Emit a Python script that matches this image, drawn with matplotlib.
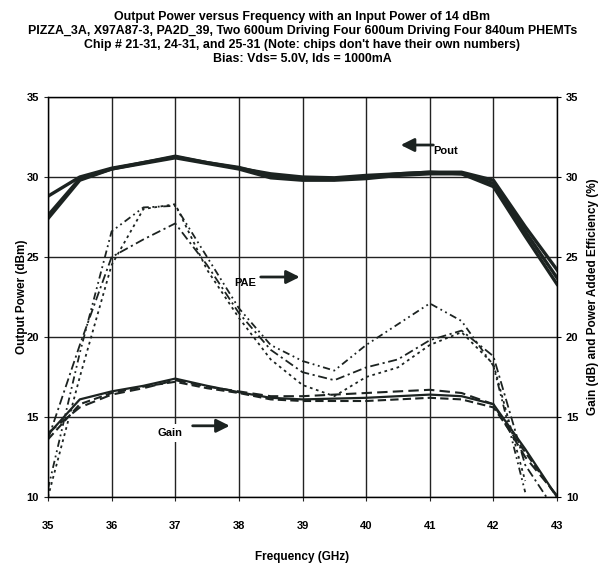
import numpy as np
import matplotlib
matplotlib.use("Agg")
import matplotlib.pyplot as plt
from matplotlib import font_manager

names = {f.name for f in font_manager.fontManager.ttflist}
FONT = "Liberation Sans Narrow" if "Liberation Sans Narrow" in names else "Liberation Sans"
plt.rcParams['font.family'] = [FONT, 'DejaVu Sans']
plt.rcParams['font.weight'] = 'bold'

freq = [35, 35.5, 36, 36.5, 37, 37.5, 38, 38.5, 39, 39.5, 40, 40.5, 41, 41.5, 42, 42.5, 43]

pout_a = [28.8, 30.0, 30.55, 30.9, 31.25, 30.9, 30.55, 30.2, 30.0, 29.95, 30.1, 30.2, 30.3, 30.3, 29.8, 26.9, 24.2]
pout_b = [27.6, 29.9, 30.5, 30.9, 31.3, 30.9, 30.6, 30.1, 29.9, 29.85, 30.0, 30.2, 30.3, 30.2, 29.6, 26.6, 23.7]
pout_c = [27.4, 29.8, 30.5, 30.85, 31.2, 30.85, 30.5, 29.95, 29.8, 29.8, 29.9, 30.1, 30.2, 30.2, 29.4, 26.3, 23.3]

gain_a = [13.9, 16.1, 16.6, 16.95, 17.4, 16.95, 16.55, 16.2, 16.1, 16.15, 16.2, 16.3, 16.4, 16.3, 15.8, 13.0, 10.0]
gain_b = [13.6, 15.8, 16.5, 16.9, 17.2, 16.8, 16.5, 16.1, 16.0, 16.0, 16.0, 16.1, 16.2, 16.1, 15.6, 12.8, 10.0]
gain_c = [14.0, 15.6, 16.4, 16.8, 17.3, 16.9, 16.6, 16.3, 16.3, 16.4, 16.5, 16.6, 16.7, 16.5, 15.8, 12.5, 10.1]

pae_a = [10.5, 19.0, 26.6, 28.1, 28.2, 25.0, 21.8, 19.5, 18.5, 17.9, 19.5, 20.8, 22.1, 21.0, 18.2, 10.3, np.nan]
pae_b = [13.6, 19.5, 25.0, 26.1, 27.1, 24.5, 21.5, 19.2, 17.8, 17.3, 18.1, 18.6, 19.8, 20.4, 18.8, 12.0, 9.0]
pae_c = [10.0, 17.5, 24.5, 28.0, 28.3, 24.2, 21.2, 18.6, 17.0, 16.3, 17.5, 18.1, 19.5, 20.3, 18.3, 11.0, np.nan]

title_lines = [
    "Output Power versus Frequency with an Input Power of 14 dBm",
    "PIZZA_3A, X97A87-3, PA2D_39, Two 600um Driving Four 600um Driving Four 840um PHEMTs",
    "Chip # 21-31, 24-31, and 25-31 (Note: chips don't have their own numbers)",
    "Bias: Vds= 5.0V, Ids = 1000mA",
]
y_ticks = [10, 15, 20, 25, 30, 35]
x_ticks = [35, 36, 37, 38, 39, 40, 41, 42, 43]

fig = plt.figure(figsize=(6.05, 5.68), dpi=100)
ax = fig.add_axes([0.0793, 0.125, 0.8414, 0.7042])
ax.set_xlim(35, 43)
ax.set_ylim(10, 35)
ax.set_xticks(x_ticks)
ax.set_yticks(y_ticks)
ax.grid(True, color='#222222', lw=1.0)
ax.set_axisbelow(True)
for s in ax.spines.values():
    s.set_color('#222222')
    s.set_linewidth(1.0)

dark = '#1c2321'
for p in (pout_a, pout_b, pout_c):
    ax.plot(freq, p, color=dark, lw=2.4, solid_joinstyle='round')

ax.plot(freq, gain_a, color=dark, lw=1.6)
ax.plot(freq, gain_b, color=dark, lw=1.5, dashes=(4, 2))
ax.plot(freq, gain_c, color=dark, lw=1.5, dashes=(5, 2.5))

ax.plot(freq, pae_a, color=dark, lw=1.3, dashes=(4, 2, 1, 2, 1, 2))
ax.plot(freq, pae_b, color=dark, lw=1.3, dashes=(5, 2, 1.2, 2))
ax.plot(freq, pae_c, color=dark, lw=1.3, dashes=(1.5, 2))

ax.tick_params(axis='both', labelsize=8, length=3, color='#222222')
for lab in ax.get_xticklabels() + ax.get_yticklabels():
    lab.set_fontweight('bold')
ax.tick_params(axis='x', pad=14)

ax2 = ax.twinx()
ax2.set_ylim(10, 35)
ax2.set_yticks(y_ticks)
ax2.tick_params(axis='y', labelsize=8, length=3)
for lab in ax2.get_yticklabels():
    lab.set_fontweight('bold')

ax.set_xlabel("Frequency (GHz)", fontsize=8.5, fontweight='bold', labelpad=15)
ax.set_ylabel("Output Power (dBm)", fontsize=8.5, fontweight='bold', labelpad=-1)
ax2.set_ylabel("Gain (dB) and Power Added Efficiency (%)", fontsize=8.5, fontweight='bold',
               rotation=90, labelpad=6)

# annotations
ax.annotate("", xy=(40.5, 32.0), xytext=(41.1, 32.0),
            arrowprops=dict(arrowstyle='-|>,head_length=0.8,head_width=0.4', color=dark, lw=2))
ax.text(41.05, 31.6, "Pout", fontsize=8, fontweight='bold', ha='left', va='center')

ax.text(38.1, 23.4, "PAE", fontsize=8, fontweight='bold', ha='center', va='center')
ax.annotate("", xy=(39.0, 23.75), xytext=(38.3, 23.75),
            arrowprops=dict(arrowstyle='-|>,head_length=0.8,head_width=0.4', color=dark, lw=2))

ax.text(36.92, 14.0, "Gain", fontsize=8, fontweight='bold', ha='center', va='center',
        bbox=dict(facecolor='white', edgecolor='none', pad=3))
ax.annotate("", xy=(37.9, 14.45), xytext=(37.23, 14.45),
            arrowprops=dict(arrowstyle='-|>,head_length=0.8,head_width=0.4', color=dark, lw=2))

y0 = 0.970
for i, line in enumerate(title_lines):
    fig.text(0.5, y0 - i * 0.0245, line, ha='center', va='center', fontsize=8.9, fontweight='bold')

fig.savefig("out.png", dpi=100)
